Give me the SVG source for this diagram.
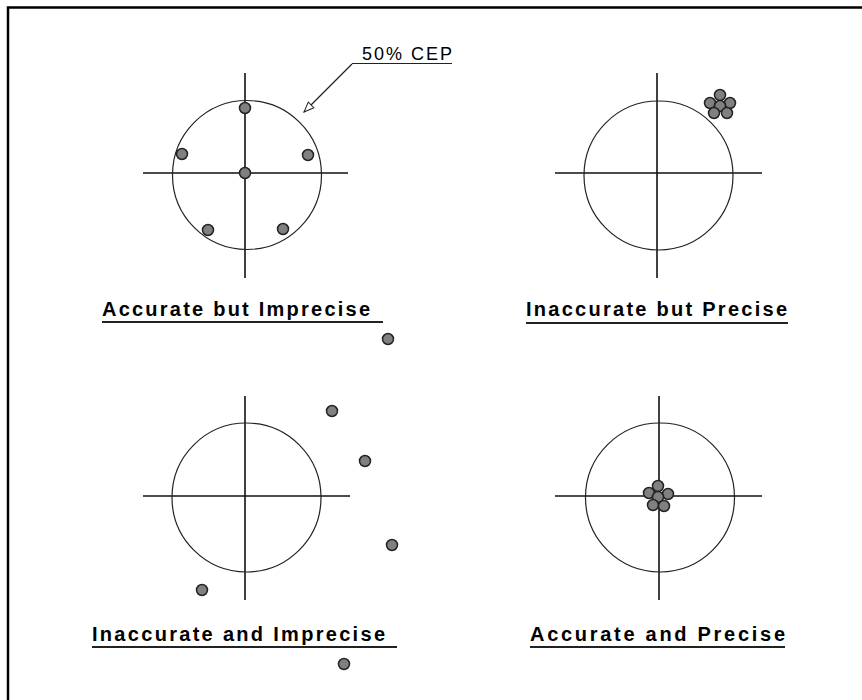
<svg xmlns="http://www.w3.org/2000/svg" width="862" height="700" viewBox="0 0 862 700">
<style>
.ax{stroke:#111;stroke-width:1.6;fill:none}
.cep{stroke:#222;stroke-width:1.2;fill:none}
.dot{fill:#808080;stroke:#222;stroke-width:1.5}
.lbl{font-family:"Liberation Sans",Arial,sans-serif;font-size:20px;font-weight:bold;fill:#000}
.ul{stroke:#222;stroke-width:1.8}
.note{font-family:"Liberation Sans",Arial,sans-serif;font-size:18px;fill:#000}
</style>
<defs>
<marker id="open" viewBox="0 0 12 10" refX="11" refY="5" markerWidth="12" markerHeight="10" markerUnits="userSpaceOnUse" orient="auto">
<path d="M1,1 L11,5 L1,9 Z" fill="#fff" stroke="#222" stroke-width="1"/>
</marker>
</defs>
<rect width="862" height="700" fill="#fff"/>
<g id="frame">
<path d="M8,700 V7.5 H862" fill="none" stroke="#000" stroke-width="2.5"/>
</g>
<g id="panel-accurate-imprecise">
<line class="ax" x1="245" y1="73" x2="245" y2="278"/>
<line class="ax" x1="143" y1="173" x2="348" y2="173"/>
<circle class="cep" cx="247" cy="175" r="74.5"/>
<circle class="dot" cx="245" cy="108" r="5.5"/>
<circle class="dot" cx="182" cy="154" r="5.5"/>
<circle class="dot" cx="308" cy="155" r="5.5"/>
<circle class="dot" cx="245" cy="173" r="5.5"/>
<circle class="dot" cx="208" cy="230" r="5.5"/>
<circle class="dot" cx="283" cy="229" r="5.5"/>
<text class="lbl" x="102" y="316" textLength="268" lengthAdjust="spacing">Accurate but Imprecise</text>
<line class="ul" x1="102" y1="322" x2="383" y2="322"/>
</g>
<g id="panel-inaccurate-precise">
<line class="ax" x1="657" y1="73" x2="657" y2="278"/>
<line class="ax" x1="555" y1="173" x2="762" y2="173"/>
<circle class="cep" cx="658.5" cy="175.5" r="74.5"/>
<circle class="dot" cx="720" cy="95" r="5.5"/>
<circle class="dot" cx="710" cy="103" r="5.5"/>
<circle class="dot" cx="730" cy="103" r="5.5"/>
<circle class="dot" cx="720" cy="106" r="5.5"/>
<circle class="dot" cx="714" cy="113" r="5.5"/>
<circle class="dot" cx="727" cy="113" r="5.5"/>
<text class="lbl" x="526" y="316" textLength="261" lengthAdjust="spacing">Inaccurate but Precise</text>
<line class="ul" x1="526" y1="323" x2="788" y2="323"/>
</g>
<g id="panel-inaccurate-imprecise">
<line class="ax" x1="245" y1="396" x2="245" y2="600"/>
<line class="ax" x1="143" y1="496" x2="350" y2="496"/>
<circle class="cep" cx="246.5" cy="497.5" r="74.5"/>
<circle class="dot" cx="388" cy="339" r="5.5"/>
<circle class="dot" cx="332" cy="411" r="5.5"/>
<circle class="dot" cx="365" cy="461" r="5.5"/>
<circle class="dot" cx="392" cy="545" r="5.5"/>
<circle class="dot" cx="202" cy="590" r="5.5"/>
<circle class="dot" cx="344" cy="664" r="5.5"/>
<text class="lbl" x="92" y="641" textLength="293" lengthAdjust="spacing">Inaccurate and Imprecise</text>
<line class="ul" x1="92" y1="647" x2="397" y2="647"/>
</g>
<g id="panel-accurate-precise">
<line class="ax" x1="659" y1="396" x2="659" y2="600"/>
<line class="ax" x1="555" y1="496" x2="762" y2="496"/>
<circle class="cep" cx="660" cy="497.5" r="74.5"/>
<circle class="dot" cx="658" cy="486" r="5.5"/>
<circle class="dot" cx="649" cy="493" r="5.5"/>
<circle class="dot" cx="668" cy="494" r="5.5"/>
<circle class="dot" cx="658" cy="497" r="5.5"/>
<circle class="dot" cx="653" cy="505" r="5.5"/>
<circle class="dot" cx="664" cy="506" r="5.5"/>
<text class="lbl" x="530" y="641" textLength="255" lengthAdjust="spacing">Accurate and Precise</text>
<line class="ul" x1="530" y1="647" x2="785" y2="647"/>
</g>
<g id="connectors">
<line x1="352" y1="64" x2="304" y2="112" stroke="#222" stroke-width="1.2" marker-end="url(#open)"/>
</g>
<g id="callout">
<text class="note" x="362" y="60" textLength="90" lengthAdjust="spacing">50% CEP</text>
<line x1="352" y1="63.5" x2="452" y2="63.5" stroke="#222" stroke-width="1.2"/>
</g>
</svg>
